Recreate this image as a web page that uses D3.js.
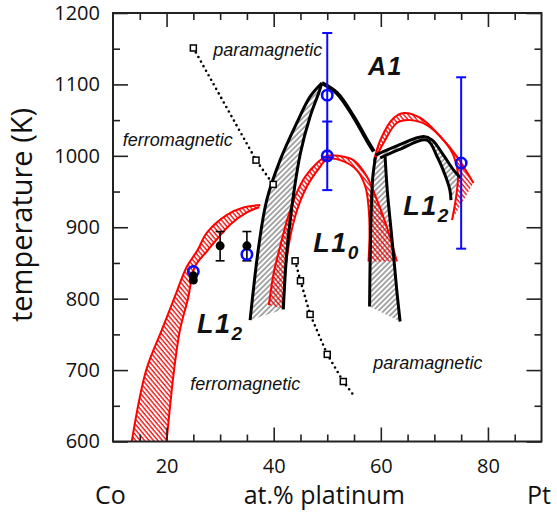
<!DOCTYPE html>
<html>
<head>
<meta charset="utf-8">
<script src="https://cdn.jsdelivr.net/npm/d3@7"></script>
<style>
  body { margin: 0; background: #fff; }
  svg { display: block; }
</style>
</head>
<body>
<svg id="chart" width="557" height="512"></svg>
<script>
// ---- data (at.% Pt, temperature K) ----
const xMajor = [20, 40, 60, 80];
const xMinor = [15, 25, 30, 35, 45, 50, 55, 65, 70, 75, 85];
const yMajor = [600, 700, 800, 900, 1000, 1100, 1200];
const yMinor = [650, 750, 850, 950, 1050, 1150];

// Curie temperature (open squares, dotted)
const curieUpper = [[25, 1151], [36.7, 994], [39.9, 960]];
const curieLower = [[44, 853], [45, 825], [46.8, 778], [50, 722], [53, 684]];
const curieTail = [[55.2, 662]];

// red hatched bands
const redCoOuter = [[13.5, 600], [16.2, 700], [19.1, 756], [21.4, 800], [23.8, 845], [25.8, 868], [27.5, 892], [31.2, 917], [34.5, 928], [37.5, 931]];
const redCoInner = [[20.0, 600], [21.4, 700], [22.5, 756], [24.0, 800], [25.3, 845], [27.5, 866], [31.9, 904], [35, 921], [37.3, 928]];

const redDomeOuter = [[39.1, 791], [40, 836], [41.2, 873], [42.5, 910], [44, 943], [45.9, 971], [48.1, 990], [49.9, 1000], [52.2, 1000], [54.9, 994], [57.4, 971], [59.3, 938], [61.1, 901], [63, 852]];
const redDomeInner = [[41.8, 786], [42.4, 854], [44, 915], [46.2, 957], [48.7, 985], [49.9, 995], [52.4, 994], [55.5, 980], [57.1, 957], [57.7, 929], [57.9, 891], [57.7, 852]];

const redPtOuter = [[58.7, 992], [59.9, 1022], [62.4, 1053], [64.3, 1060], [67.4, 1053], [71.1, 1027], [74.2, 999], [77.3, 962]];
const redPtInner = [[58.7, 992], [60.5, 1018], [63, 1046], [65.5, 1050], [68.6, 1043], [71.7, 1022], [73.6, 1000], [74.4, 975], [74.1, 945], [73.3, 910]];

// black hatched regions
const blackDomeOuter = [[35.6, 770], [37.2, 873], [38.7, 938], [41.2, 994], [44.3, 1046], [46.8, 1083], [49, 1102]];
const blackDomeInner = [[41.8, 785], [42.4, 860], [43.4, 929], [45, 1004], [46.8, 1055], [48.4, 1088], [49, 1102]];
const blackDomeRight = [[49, 1102], [51.8, 1088], [54.9, 1055], [57.4, 1022], [58.7, 1006]];

const blackColLeft = [[57.9, 789], [58, 850], [58.2, 920], [58.5, 970], [59, 998]];
const blackColRight = [[63.6, 768], [63.0, 810], [62.4, 859], [61.8, 905], [61.2, 952], [60.8, 999]];

const blackPtOuter = [[59, 1001], [63, 1014], [68, 1027], [69.6, 1022], [71.7, 1001], [73.6, 980], [74.9, 969]];
const blackPtInner = [[59.9, 997], [63.5, 1009], [68.6, 1022], [70.5, 999], [72.1, 971], [72.9, 952], [73.1, 938]];

// measured points
const blueX = [25, 35, 50, 50, 75];
const blueT = [838, 862, 1085, 1000, 990];
const blueLo = [null, null, 998, 952, 870];
const blueHi = [null, null, 1172, 1048, 1110];

const blackX = [25, 25, 30, 35];
const blackT = [832, 826, 874, 874];
const blackLo = [null, null, 853, 853];
const blackHi = [null, null, 894, 894];

// region labels [x, T]
const magLabels = [
  { text: "paramagnetic", at: [28.7, 1140] },
  { text: "ferromagnetic", at: [11.8, 1014] },
  { text: "ferromagnetic", at: [24.4, 672] },
  { text: "paramagnetic", at: [58.6, 701] }
];
const phaseLabels = [
  { main: "A1", sub: "", at: [57.6, 1113], size: 25 },
  { main: "L1", sub: "0", at: [47.4, 866], size: 27 },
  { main: "L1", sub: "2", at: [64.2, 917], size: 27 },
  { main: "L1", sub: "2", at: [25.7, 752], size: 27 }
];

// ---- chart ----
const svg = d3.select("#chart");
const box = { left: 113, right: 541.5, top: 13, bottom: 441.5 };

const x = d3.scaleLinear().domain([10, 90]).range([box.left, box.right]);
const y = d3.scaleLinear().domain([600, 1200]).range([box.bottom, box.top]);

const defs = svg.append("defs");
defs.append("pattern")
    .attr("id", "hatchGray")
    .attr("patternUnits", "userSpaceOnUse")
    .attr("width", 3.8).attr("height", 4)
    .attr("patternTransform", "rotate(45)")
  .append("line")
    .attr("x1", 1).attr("y1", 0).attr("x2", 1).attr("y2", 4)
    .attr("stroke", "#3a3a3a").attr("stroke-width", 0.9);

defs.append("pattern")
    .attr("id", "hatchRed")
    .attr("patternUnits", "userSpaceOnUse")
    .attr("width", 3.4).attr("height", 4)
    .attr("patternTransform", "rotate(-40)")
  .append("line")
    .attr("x1", 1).attr("y1", 0).attr("x2", 1).attr("y2", 4)
    .attr("stroke", "#f00000").attr("stroke-width", 1.3);

const line = d3.line()
    .x(d => x(d[0]))
    .y(d => y(d[1]))
    .curve(d3.curveCatmullRom.alpha(0.5));

function band(a, b) {
    return line(a) + "L" + line(b.slice().reverse()).slice(1) + "Z";
}

const plot = svg.append("g");

// gray hatched areas
plot.selectAll(".grayband")
    .data([
        band(blackDomeOuter, blackDomeInner),
        band(blackColLeft, blackColRight),
        band(blackPtOuter, blackPtInner)
    ])
    .join("path")
    .attr("class", "grayband")
    .attr("d", d => d)
    .attr("fill", "url(#hatchGray)");

// red hatched areas
const redBands = [
    [redCoOuter, redCoInner],
    [redDomeOuter, redDomeInner],
    [redPtOuter, redPtInner]
];
plot.selectAll(".redband")
    .data(redBands)
    .join("path")
    .attr("class", "redband")
    .attr("d", d => band(d[0], d[1]))
    .attr("fill", "url(#hatchRed)");

plot.selectAll(".redline")
    .data(redBands.flat())
    .join("path")
    .attr("class", "redline")
    .attr("d", line)
    .attr("fill", "none")
    .attr("stroke", "#ff0000")
    .attr("stroke-width", 2);

// black boundaries
plot.selectAll(".blackline")
    .data([blackDomeOuter, blackDomeInner, blackColLeft, blackColRight, blackPtOuter, blackPtInner])
    .join("path")
    .attr("class", "blackline")
    .attr("d", line)
    .attr("fill", "none")
    .attr("stroke", "#000")
    .attr("stroke-width", 3);

plot.append("path")
    .attr("d", line(blackDomeRight))
    .attr("fill", "none")
    .attr("stroke", "#000")
    .attr("stroke-width", 4);

// Curie line
const straight = d3.line().x(d => x(d[0])).y(d => y(d[1]));
plot.selectAll(".curie")
    .data([curieUpper, curieLower.concat(curieTail)])
    .join("path")
    .attr("class", "curie")
    .attr("d", straight)
    .attr("fill", "none")
    .attr("stroke", "#000")
    .attr("stroke-width", 2.6)
    .attr("stroke-linecap", "round")
    .attr("stroke-dasharray", "0 5.2");

plot.selectAll(".sq")
    .data(curieUpper.concat(curieLower))
    .join("rect")
    .attr("class", "sq")
    .attr("x", d => x(d[0]) - 3)
    .attr("y", d => y(d[1]) - 3)
    .attr("width", 6).attr("height", 6)
    .attr("fill", "#fff")
    .attr("stroke", "#000")
    .attr("stroke-width", 1.5);

// black points with error bars
const blackIdx = d3.range(blackX.length);
const errB = plot.selectAll(".errb")
    .data(blackIdx.filter(i => blackLo[i] !== null))
    .join("g").attr("class", "errb")
    .attr("stroke", "#000").attr("stroke-width", 1.6);
errB.append("line")
    .attr("x1", i => x(blackX[i])).attr("x2", i => x(blackX[i]))
    .attr("y1", i => y(blackLo[i])).attr("y2", i => y(blackHi[i]));
errB.append("line")
    .attr("x1", i => x(blackX[i]) - 4.5).attr("x2", i => x(blackX[i]) + 4.5)
    .attr("y1", i => y(blackLo[i])).attr("y2", i => y(blackLo[i]));
errB.append("line")
    .attr("x1", i => x(blackX[i]) - 4.5).attr("x2", i => x(blackX[i]) + 4.5)
    .attr("y1", i => y(blackHi[i])).attr("y2", i => y(blackHi[i]));

// blue points with error bars
const blueIdx = d3.range(blueX.length);
const errBlue = plot.selectAll(".errblue")
    .data(blueIdx.filter(i => blueLo[i] !== null))
    .join("g").attr("class", "errblue")
    .attr("stroke", "#0a0aff").attr("stroke-width", 2);
errBlue.append("line")
    .attr("x1", i => x(blueX[i])).attr("x2", i => x(blueX[i]))
    .attr("y1", i => y(blueLo[i])).attr("y2", i => y(blueHi[i]));
errBlue.append("line")
    .attr("x1", i => x(blueX[i]) - 5).attr("x2", i => x(blueX[i]) + 5)
    .attr("y1", i => y(blueLo[i])).attr("y2", i => y(blueLo[i]));
errBlue.append("line")
    .attr("x1", i => x(blueX[i]) - 5).attr("x2", i => x(blueX[i]) + 5)
    .attr("y1", i => y(blueHi[i])).attr("y2", i => y(blueHi[i]));

plot.selectAll(".bluept")
    .data(blueIdx)
    .join("circle")
    .attr("class", "bluept")
    .attr("cx", i => x(blueX[i]))
    .attr("cy", i => y(blueT[i]))
    .attr("r", 5.2)
    .attr("fill", "none")
    .attr("stroke", "#0a0aff")
    .attr("stroke-width", 2.6);

plot.selectAll(".blackpt")
    .data(blackIdx)
    .join("circle")
    .attr("class", "blackpt")
    .attr("cx", i => x(blackX[i]))
    .attr("cy", i => y(blackT[i]))
    .attr("r", 4.5)
    .attr("fill", "#000");

// labels inside the plot
plot.selectAll(".mag")
    .data(magLabels)
    .join("text")
    .attr("class", "mag")
    .attr("x", d => x(d.at[0]))
    .attr("y", d => y(d.at[1]))
    .attr("font-family", "Liberation Sans, Arial, sans-serif")
    .attr("font-style", "italic")
    .attr("font-size", 18)
    .attr("fill", "#111")
    .text(d => d.text);

const ph = plot.selectAll(".phase")
    .data(phaseLabels)
    .join("text")
    .attr("class", "phase")
    .attr("x", d => x(d.at[0]))
    .attr("y", d => y(d.at[1]))
    .attr("font-family", "Liberation Sans, Arial, sans-serif")
    .attr("font-style", "italic")
    .attr("font-weight", "bold")
    .attr("font-size", d => d.size)
    .attr("letter-spacing", 1.5)
    .attr("fill", "#111");
ph.append("tspan").text(d => d.main);
ph.append("tspan")
    .attr("font-size", 19)
    .attr("dy", 7)
    .text(d => d.sub);

// axes
const axisFont = "Open Sans, sans-serif";
function styleAxis(g) {
    g.select(".domain").remove();
    g.selectAll("line").attr("stroke", "#222").attr("stroke-width", 1.6);
    g.selectAll("text").attr("font-family", axisFont).attr("font-size", 20).attr("fill", "#111");
}

svg.append("g").attr("transform", `translate(0,${box.bottom})`)
    .call(d3.axisBottom(x).tickValues(xMajor).tickSize(-14).tickPadding(17).tickFormat(d3.format("d")))
    .call(styleAxis);
svg.append("g").attr("transform", `translate(0,${box.bottom})`)
    .call(d3.axisBottom(x).tickValues(xMinor).tickSize(-7).tickFormat(""))
    .call(styleAxis);
svg.append("g").attr("transform", `translate(0,${box.top})`)
    .call(d3.axisTop(x).tickValues(xMajor).tickSize(-14).tickFormat(""))
    .call(styleAxis);
svg.append("g").attr("transform", `translate(0,${box.top})`)
    .call(d3.axisTop(x).tickValues(xMinor).tickSize(-7).tickFormat(""))
    .call(styleAxis);

svg.append("g").attr("transform", `translate(${box.left},0)`)
    .call(d3.axisLeft(y).tickValues(yMajor).tickSize(-15).tickPadding(13).tickFormat(d3.format("d")))
    .call(styleAxis);
svg.append("g").attr("transform", `translate(${box.left},0)`)
    .call(d3.axisLeft(y).tickValues(yMinor).tickSize(-7).tickFormat(""))
    .call(styleAxis);
svg.append("g").attr("transform", `translate(${box.right},0)`)
    .call(d3.axisRight(y).tickValues(yMajor).tickSize(-15).tickFormat(""))
    .call(styleAxis);
svg.append("g").attr("transform", `translate(${box.right},0)`)
    .call(d3.axisRight(y).tickValues(yMinor).tickSize(-7).tickFormat(""))
    .call(styleAxis);

svg.append("rect")
    .attr("x", box.left).attr("y", box.top)
    .attr("width", box.right - box.left).attr("height", box.bottom - box.top)
    .attr("fill", "none")
    .attr("stroke", "#222")
    .attr("stroke-width", 2);

// axis titles
svg.append("text")
    .attr("transform", "translate(32,215) rotate(-90)")
    .attr("text-anchor", "middle")
    .attr("font-family", axisFont)
    .attr("font-size", 29)
    .attr("fill", "#111")
    .text("temperature (K)");

svg.append("text")
    .attr("x", (box.left + box.right) / 2 - 3)
    .attr("y", 504)
    .attr("text-anchor", "middle")
    .attr("font-family", axisFont)
    .attr("font-size", 25)
    .attr("fill", "#111")
    .text("at.% platinum");

svg.append("text")
    .attr("x", 95).attr("y", 504)
    .attr("font-family", axisFont)
    .attr("font-size", 25)
    .attr("fill", "#111")
    .text("Co");

svg.append("text")
    .attr("x", 527).attr("y", 504)
    .attr("font-family", axisFont)
    .attr("font-size", 25)
    .attr("fill", "#111")
    .text("Pt");
</script>
</body>
</html>
